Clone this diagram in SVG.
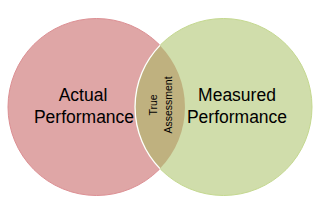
<svg xmlns="http://www.w3.org/2000/svg" width="320" height="214" viewBox="0 0 320 214">
<style>
.big{font-family:"Liberation Sans","Open Sans",Arial,sans-serif;font-size:17.5px;fill:#000;text-anchor:middle}
.small{font-family:"Liberation Sans","Open Sans",Arial,sans-serif;font-size:10.5px;fill:#000;text-anchor:middle}
</style>
<rect width="320" height="214" fill="#fff"/>
<g id="actual">
<circle cx="96.5" cy="107" r="88.5" fill="#DFA6A6" stroke="#DC8F93" stroke-width="1"/>
<text class="big" x="83" y="101">Actual</text>
<text class="big" x="84" y="123">Performance</text>
</g>
<g id="measured">
<circle cx="223.5" cy="107" r="88.5" fill="#D0DDAB" stroke="#C4D88F" stroke-width="1"/>
<text class="big" x="237" y="101">Measured</text>
<text class="big" x="237" y="123">Performance</text>
</g>
<g id="true-assessment">
<path d="M160,45.4 A88.5,88.5 0 0,1 160,168.6 A88.5,88.5 0 0,1 160,45.4 Z" fill="#BFB17F"/>
<path d="M160,168.6 A88.5,88.5 0 0,1 160,45.4" fill="none" stroke="#fff" stroke-width="1.3"/>
<text class="small" transform="translate(157,105) rotate(-90)">True</text>
<text class="small" transform="translate(171.5,105) rotate(-90)">Assessment</text>
</g>
<g id="connectors"/>
</svg>
